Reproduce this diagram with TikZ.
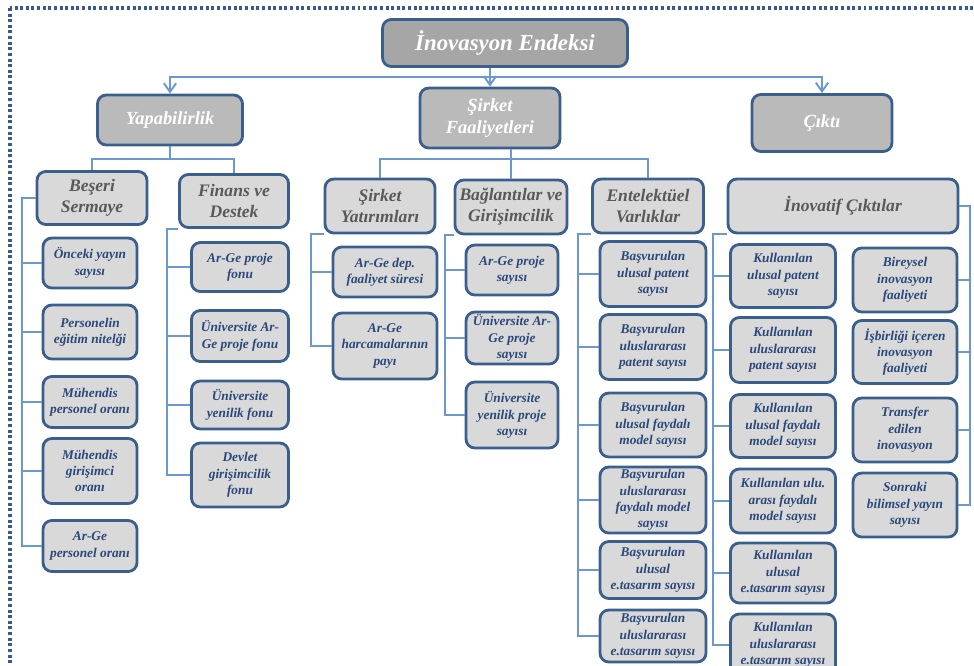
\documentclass[tikz,border=0pt]{standalone}
\usepackage{fontspec}
\setmainfont{Liberation Serif}
\usepackage{tikz}
\usetikzlibrary{arrows.meta}
\definecolor{boxline}{RGB}{58,95,140}
\definecolor{linkblue}{RGB}{108,152,208}
\definecolor{leaftext}{RGB}{42,72,122}
\definecolor{headtext}{RGB}{89,89,89}
\definecolor{leaffill}{RGB}{217,217,217}
\definecolor{topfill}{RGB}{166,166,166}
\definecolor{midfill}{RGB}{186,186,186}
\definecolor{framedot}{RGB}{55,90,145}

\begin{document}
\begin{tikzpicture}[x=0.02cm,y=-0.02cm,
  box/.style={draw=boxline,line width=1.6pt,rounded corners=5pt,align=center,inner sep=1pt},
  rootbox/.style={box,fill=topfill,text=white,font=\fontsize{13}{15}\selectfont\bfseries\itshape},
  mainbox/.style={box,fill=midfill,text=white,font=\fontsize{10.5}{12.5}\selectfont\bfseries\itshape},
  groupbox/.style={box,fill=leaffill,text=headtext,font=\fontsize{10}{12}\selectfont\bfseries\itshape},
  leafbox/.style={box,fill=leaffill,text=leaftext,font=\fontsize{7.6}{9.3}\selectfont\bfseries\itshape},
  link/.style={draw=linkblue,line width=1.1pt},
  down/.style={link,-{Straight Barb[length=5pt,width=7pt]}},
  ]
  \useasboundingbox (0,0) rectangle (974,666);
  \clip (0,0) rectangle (974,666);
  \draw[framedot,line width=1.9pt,dash pattern=on 1.7pt off 1.5pt] (10,8) rectangle (1000,700);

  \node[rootbox,minimum width=4.9cm,minimum height=0.94cm] (top) at (505,43) {İnovasyon Endeksi};

  \node[mainbox,minimum width=2.9cm,minimum height=1cm] (yap) at (170,120) {Yapabilirlik};
  \node[mainbox,minimum width=2.8cm,minimum height=1.2cm] (sirket) at (490,118) {Şirket\\ Faaliyetleri};
  \node[mainbox,minimum width=2.8cm,minimum height=1.14cm] (cikti) at (822,123) {Çıktı};

  \node[groupbox,minimum width=2.2cm,minimum height=1.06cm] (beseri) at (92,198) {Beşeri\\ Sermaye};
  \node[groupbox,minimum width=2.18cm,minimum height=1.06cm] (finans) at (234,201) {Finans ve\\ Destek};
  \node[groupbox,minimum width=2.2cm,minimum height=1.08cm] (syat) at (380,206) {Şirket\\ Yatırımları};
  \node[groupbox,minimum width=2.24cm,minimum height=1.08cm] (bag) at (511,207) {Bağlantılar ve\\ Girişimcilik};
  \node[groupbox,minimum width=2.22cm,minimum height=1.08cm] (ent) at (648,206) {Entelektüel\\ Varlıklar};
  \node[groupbox,minimum width=4.6cm,minimum height=1.08cm] (inov) at (843,206) {İnovatif Çıktılar};

  \node[leafbox,minimum width=1.88cm,minimum height=1cm] (b1) at (90,263) {Önceki yayın\\ sayısı};
  \node[leafbox,minimum width=1.88cm,minimum height=1.08cm] (b2) at (90,332) {Personelin\\ eğitim nitelği};
  \node[leafbox,minimum width=1.88cm,minimum height=1.02cm] (b3) at (90,402) {Mühendis\\ personel oranı};
  \node[leafbox,minimum width=1.88cm,minimum height=1.3cm] (b4) at (90,471) {Mühendis\\ girişimci\\ oranı};
  \node[leafbox,minimum width=1.88cm,minimum height=1.02cm] (b5) at (90,546) {Ar-Ge\\ personel oranı};

  \node[leafbox,minimum width=1.94cm,minimum height=0.98cm] (f1) at (240,267) {Ar-Ge proje\\ fonu};
  \node[leafbox,minimum width=1.94cm,minimum height=1.02cm] (f2) at (240,336) {Üniversite Ar-\\ Ge proje fonu};
  \node[leafbox,minimum width=1.94cm,minimum height=0.96cm] (f3) at (240,405) {Üniversite\\ yenilik fonu};
  \node[leafbox,minimum width=1.94cm,minimum height=1.28cm] (f4) at (240,475) {Devlet\\ girişimcilik\\ fonu};

  \node[leafbox,minimum width=2.08cm,minimum height=1cm] (s1) at (385,272) {Ar-Ge dep.\\ faaliyet süresi};
  \node[leafbox,minimum width=2.08cm,minimum height=1.32cm] (s2) at (385,346) {Ar-Ge\\ harcamalarının\\ payı};

  \node[leafbox,minimum width=1.84cm,minimum height=1cm] (g1) at (512,270) {Ar-Ge proje\\ sayısı};
  \node[leafbox,minimum width=1.84cm,minimum height=1.04cm] (g2) at (512,338) {Üniversite Ar-\\ Ge proje\\ sayısı};
  \node[leafbox,minimum width=1.84cm,minimum height=1.32cm] (g3) at (512,415) {Üniversite\\ yenilik proje\\ sayısı};

  \node[leafbox,minimum width=2.12cm,minimum height=1.3cm] (e1) at (653,274) {Başvurulan\\ ulusal patent\\ sayısı};
  \node[leafbox,minimum width=2.12cm,minimum height=1.3cm] (e2) at (653,347) {Başvurulan\\ uluslararası\\ patent sayısı};
  \node[leafbox,minimum width=2.12cm,minimum height=1.28cm] (e3) at (653,425) {Başvurulan\\ ulusal faydalı\\ model sayısı};
  \node[leafbox,minimum width=2.12cm,minimum height=1.32cm] (e4) at (653,500) {Başvurulan\\ uluslararası\\ faydalı model\\ sayısı};
  \node[leafbox,minimum width=2.12cm,minimum height=1.14cm] (e5) at (653,570) {Başvurulan\\ ulusal\\ e.tasarım sayısı};
  \node[leafbox,minimum width=2.12cm,minimum height=1.04cm] (e6) at (653,636) {Başvurulan\\ uluslararası\\ e.tasarım sayısı};

  \node[leafbox,minimum width=2.1cm,minimum height=1.26cm] (k1) at (783,276) {Kullanılan\\ ulusal patent\\ sayısı};
  \node[leafbox,minimum width=2.1cm,minimum height=1.3cm] (k2) at (783,350) {Kullanılan\\ uluslararası\\ patent sayısı};
  \node[leafbox,minimum width=2.1cm,minimum height=1.26cm] (k3) at (783,426) {Kullanılan\\ ulusal faydalı\\ model sayısı};
  \node[leafbox,minimum width=2.1cm,minimum height=1.28cm] (k4) at (783,501) {Kullanılan ulu.\\ arası faydalı\\ model sayısı};
  \node[leafbox,minimum width=2.1cm,minimum height=1.2cm] (k5) at (783,573) {Kullanılan\\ ulusal\\ e.tasarım sayısı};
  \node[leafbox,minimum width=2.1cm,minimum height=1.24cm] (k6) at (783,645) {Kullanılan\\ uluslararası\\ e.tasarım sayısı};

  \node[leafbox,minimum width=2.08cm,minimum height=1.28cm] (r1) at (905,280) {Bireysel\\ inovasyon\\ faaliyeti};
  \node[leafbox,minimum width=2.08cm,minimum height=1.26cm] (r2) at (905,352) {İşbirliği içeren\\ inovasyon\\ faaliyeti};
  \node[leafbox,minimum width=2.08cm,minimum height=1.28cm] (r3) at (905,430) {Transfer\\ edilen\\ inovasyon};
  \node[leafbox,minimum width=2.08cm,minimum height=1.28cm] (r4) at (905,505) {Sonraki\\ bilimsel yayın\\ sayısı};

  \draw[down] (top.south -| sirket.north) -- (sirket.north);
  \draw[down] (top.south -| sirket.north) ++(0,9) -| (yap.north);
  \draw[down] (top.south -| sirket.north) ++(0,9) -| (cikti.north);

  \draw[link] (yap.south) -- ++(0,13) coordinate (yj);
  \draw[link] (beseri.north) |- (yj) -| (finans.north);
  \draw[link] (sirket.south -| bag.north) -- ++(0,10) coordinate (sj) -- (bag.north);
  \draw[link] (syat.north) |- (sj) -| (ent.north);

  \draw[link] (beseri.west) -- ++(-14,0) coordinate (bl) |- (b5.west);
  \foreach \n in {b1,b2,b3,b4}
    \draw[link] (\n.west) -- (\n.west -| bl);
  \draw[link] (finans.south west) -- ++(-11,0) coordinate (fl) |- (f4.west);
  \foreach \n in {f1,f2,f3}
    \draw[link] (\n.west) -- (\n.west -| fl);
  \draw[link] (syat.south west) -- ++(-13,0) coordinate (sl) |- (s2.west);
  \draw[link] (s1.west) -- (s1.west -| sl);
  \draw[link] (bag.south west) -- ++(-9,0) coordinate (gl) |- (g3.west);
  \foreach \n in {g1,g2}
    \draw[link] (\n.west) -- (\n.west -| gl);
  \draw[link] (ent.south west) -- ++(-13,0) coordinate (el) |- (e6.west);
  \foreach \n in {e1,e2,e3,e4,e5}
    \draw[link] (\n.west) -- (\n.west -| el);
  \draw[link] (inov.south west) -- ++(-14,0) coordinate (kl) |- (k6.west);
  \foreach \n in {k1,k2,k3,k4,k5}
    \draw[link] (\n.west) -- (\n.west -| kl);
  \draw[link] (inov.east) -- ++(11,0) coordinate (rl) |- (r4.east);
  \foreach \n in {r1,r2,r3}
    \draw[link] (\n.east) -- (\n.east -| rl);
\end{tikzpicture}
\end{document}
